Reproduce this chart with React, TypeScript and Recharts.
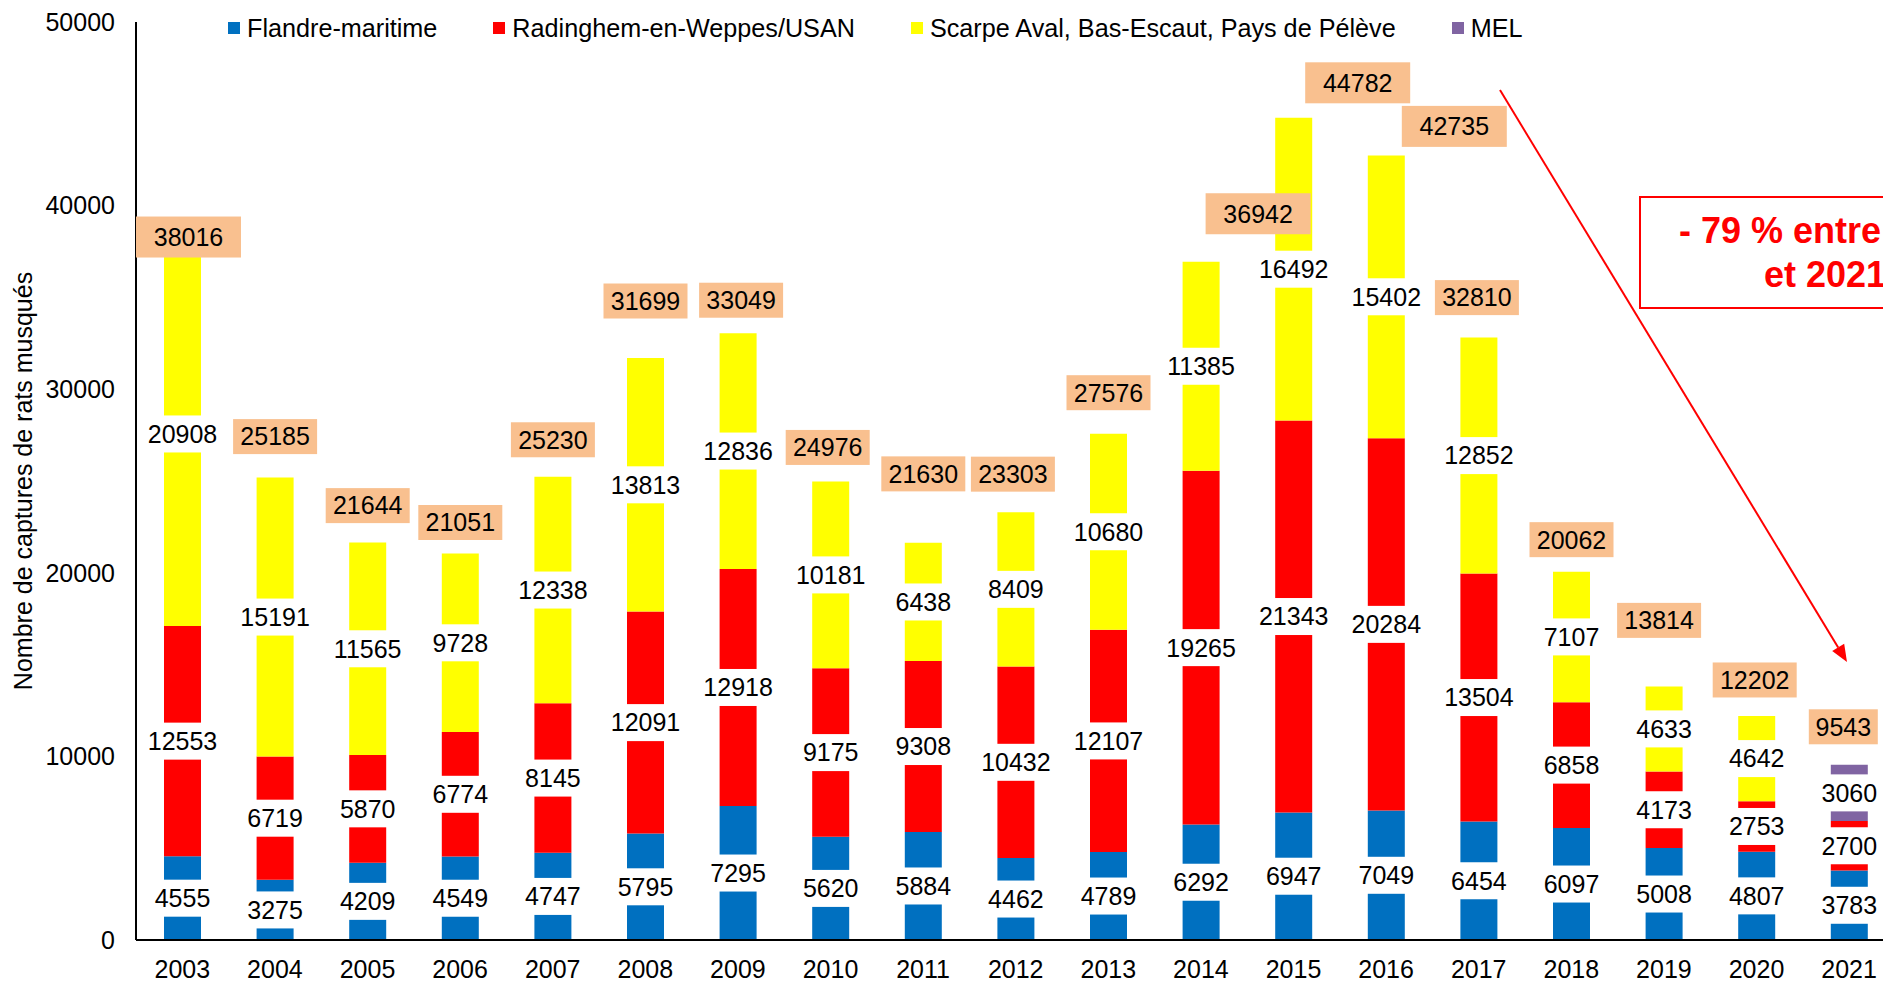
import React from 'react';
import { BarChart, Bar, XAxis, YAxis } from 'recharts';

const FONT = '"Liberation Sans", Arial, sans-serif';

const years = [
  '2003', '2004', '2005', '2006', '2007', '2008', '2009', '2010', '2011', '2012',
  '2013', '2014', '2015', '2016', '2017', '2018', '2019', '2020', '2021',
];
const flandreMaritime = [4555, 3275, 4209, 4549, 4747, 5795, 7295, 5620, 5884, 4462, 4789, 6292, 6947, 7049, 6454, 6097, 5008, 4807, 3783];
const radinghem = [12553, 6719, 5870, 6774, 8145, 12091, 12918, 9175, 9308, 10432, 12107, 19265, 21343, 20284, 13504, 6858, 4173, 2753, 2700];
const scarpeAval = [20908, 15191, 11565, 9728, 12338, 13813, 12836, 10181, 6438, 8409, 10680, 11385, 16492, 15402, 12852, 7107, 4633, 4642, 0];
const mel = [0, 0, 0, 0, 0, 0, 0, 0, 0, 0, 0, 0, 0, 0, 0, 0, 0, 0, 3060];
const yTicks = [0, 10000, 20000, 30000, 40000, 50000];

// the total boxes were moved by hand in the original, offsets (px) from bar centre / bar top
const totalShiftX = [6, 0, 0, 0, 0, 0, 3, -3, 0, -3, 0, 57, 64, 68, -2, 0, -5, -2, -6];
const totalShiftY = [-5, -41, -37, -31, -37, -57, -33, -34, -69, -38, -41, -48, -35, -29, -40, -32, -66, -36, -38];
const wideTotals = ['2003', '2014', '2015', '2016'];

const series = [
  { key: 'flandre', name: 'Flandre-maritime', color: '#0070C0', values: flandreMaritime },
  { key: 'radinghem', name: 'Radinghem-en-Weppes/USAN', color: '#FF0000', values: radinghem },
  { key: 'scarpe', name: 'Scarpe Aval, Bas-Escaut, Pays de Pélève', color: '#FFFF00', values: scarpeAval },
  { key: 'mel', name: 'MEL', color: '#8064A2', values: mel },
];

const totals = years.map((_, i) => series.reduce((acc, s) => acc + s.values[i], 0));

const rows = years.map((year, i) => {
  const row: any = { year, total: totals[i] };
  series.forEach(s => { row[s.key] = s.values[i]; });
  return row;
});

const W = 1920;
const H = 983;
const PLOT_RIGHT = 24.6;

// draws segment values (white boxes) and the total box, on top of the real bars
const LabelStack = (props: any) => {
  const { x, y, width, height, index } = props;
  const total = totals[index];
  const k = height / total;
  const base = y + height;
  const cx = x + width / 2;
  let cum = 0;
  const parts: React.ReactNode[] = [];
  series.forEach(s => {
    const v = s.values[index];
    if (v > 0) {
      const cy = base - (cum + v / 2) * k;
      parts.push(
        <g key={s.key}>
          <rect x={cx - width / 2 - 2} y={cy - 18.5} width={width + 4} height={37} fill="#fff" />
          <text x={cx} y={cy} dy="0.355em" textAnchor="middle" fontSize={25} fontFamily={FONT} fill="#000">
            {v}
          </text>
        </g>
      );
    }
    cum += v;
  });
  const wide = wideTotals.includes(years[index]);
  const bw = wide ? 105 : String(total).length === 5 ? 84 : 69;
  const bh = wide ? 41 : 35;
  const bx = cx + totalShiftX[index];
  const by = y + totalShiftY[index];
  return (
    <g>
      {parts}
      <rect x={bx - bw / 2} y={by - bh / 2} width={bw} height={bh} fill="#F9C08F" />
      <text x={bx} y={by} dy="0.355em" textAnchor="middle" fontSize={25} fontFamily={FONT} fill="#000">
        {total}
      </text>
    </g>
  );
};

const Annotation = () => {
  const x1 = 1500, y1 = 90, x2 = 1847, y2 = 662;
  const len = Math.hypot(x2 - x1, y2 - y1);
  const ux = (x2 - x1) / len, uy = (y2 - y1) / len;
  const bx = x2 - ux * 17, by = y2 - uy * 17;
  const px = -uy * 7, py = ux * 7;
  return (
    <svg width={1883} height={983} style={{ position: 'absolute', left: 0, top: 0, pointerEvents: 'none' }}>
      <line x1={x1} y1={y1} x2={bx} y2={by} stroke="#FF0000" strokeWidth={2} />
      <polygon points={`${x2},${y2} ${bx + px},${by + py} ${bx - px},${by - py}`} fill="#FF0000" />
      <rect x={1640} y={197} width={370} height={111} fill="#fff" stroke="#FF0000" strokeWidth={2} />
      <text x={1825} y={243} textAnchor="middle" fontSize={36} fontWeight="bold" fontFamily={FONT} fill="#FF0000">
        - 79 % entre 2015
      </text>
      <text x={1825} y={287} textAnchor="middle" fontSize={36} fontWeight="bold" fontFamily={FONT} fill="#FF0000">
        et 2021
      </text>
    </svg>
  );
};

const LegendRow = () => (
  <div style={{ position: 'absolute', left: 228, top: 13, display: 'flex', alignItems: 'center', fontFamily: FONT, fontSize: 25.2, lineHeight: '30px', color: '#000' }}>
    {series.map(s => (
      <div key={s.key} style={{ display: 'flex', alignItems: 'center', marginRight: 56 }}>
        <div style={{ width: 12, height: 12, backgroundColor: s.color, marginRight: 7 }} />
        <span>{s.name}</span>
      </div>
    ))}
  </div>
);

export default function App() {
  const tickStyle = { fill: '#000', fontSize: 25, fontFamily: FONT };
  return (
    <div style={{ position: 'fixed', left: 0, top: 0, width: 1883, height: 983, overflow: 'hidden', background: '#fff' }}>
      <div style={{ position: 'absolute', left: 0, top: 0 }}>
        <BarChart width={W} height={H} data={rows} margin={{ top: 22, right: PLOT_RIGHT, left: 0, bottom: 0 }} barSize={37}>
          <XAxis
            dataKey="year"
            height={43}
            interval={0}
            axisLine={{ stroke: '#000', strokeWidth: 2 }}
            tickLine={false}
            tickSize={6}
            tickMargin={14}
            tick={tickStyle}
          />
          <YAxis
            width={136}
            domain={[0, 50000]}
            ticks={yTicks}
            axisLine={{ stroke: '#000', strokeWidth: 2 }}
            tickLine={false}
            tickSize={6}
            tickMargin={15}
            tick={tickStyle}
            label={{
              value: 'Nombre de captures de rats musqués',
              angle: -90,
              position: 'insideLeft',
              offset: 23,
              fontSize: 25,
              fontFamily: FONT,
              fill: '#000',
              style: { textAnchor: 'middle' },
            }}
          />
          {series.map(s => (
            <Bar key={s.key} dataKey={s.key} name={s.name} stackId="a" fill={s.color} isAnimationActive={false} />
          ))}
        </BarChart>
      </div>
      <div style={{ position: 'absolute', left: 0, top: 0, pointerEvents: 'none' }}>
        <BarChart width={W} height={H} data={rows} margin={{ top: 22, right: PLOT_RIGHT, left: 136, bottom: 43 }} barSize={37}>
          <XAxis dataKey="year" hide />
          <YAxis hide domain={[0, 50000]} />
          <Bar dataKey="total" fill="none" isAnimationActive={false} shape={LabelStack} />
        </BarChart>
      </div>
      <LegendRow />
      <Annotation />
    </div>
  );
}
